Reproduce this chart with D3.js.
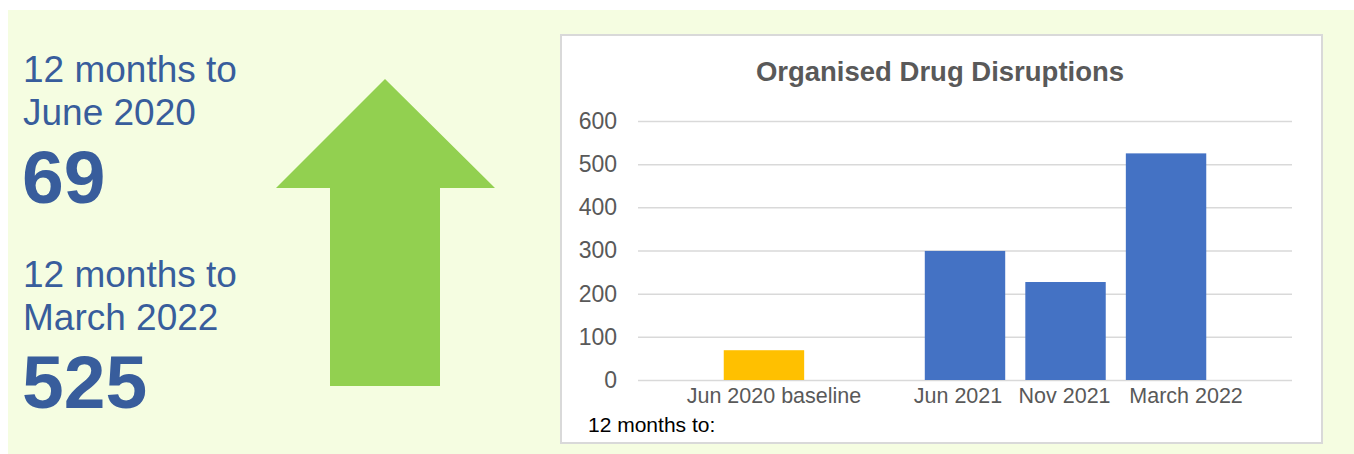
<!DOCTYPE html>
<html>
<head>
<meta charset="utf-8">
<script src="https://cdn.jsdelivr.net/npm/d3@7"></script>
<style>
  body { margin: 0; background: #ffffff; }
  svg text { font-family: "Liberation Sans", Arial, sans-serif; }
</style>
</head>
<body>
<svg id="chart"></svg>
<script>
// chart data
const categories = ["Jun 2020 baseline", "", "Jun 2021", "Nov 2021", "March 2022"];
const disruptions = [69, null, 299, 227, 525];
const barColors = ["#ffc000", null, "#4472c4", "#4472c4", "#4472c4"];
const yTicks = [0, 100, 200, 300, 400, 500, 600];

// side panel figures
const periodLabels = [["12 months to", "June 2020"], ["12 months to", "March 2022"]];
const periodTotals = ["69", "525"];

// x label nudges (the original labels are spread a little off-centre)
const labelNudge = { "Jun 2020 baseline": 10, "Jun 2021": -7, "Nov 2021": -1, "March 2022": 20 };

const W = 1354, H = 454;
const svg = d3.select("#chart").attr("width", W).attr("height", H);

// panel background
svg.append("rect")
  .attr("x", 8).attr("y", 10)
  .attr("width", 1346).attr("height", 444)
  .attr("fill", "#f5fde1");

// left hand text
const blueText = "#385d9c";
const blockTops = [82, 287];
periodLabels.forEach((lines, i) => {
  const y0 = blockTops[i];
  lines.forEach((t, j) => {
    svg.append("text")
      .attr("x", 23).attr("y", y0 + j * 42.5)
      .attr("font-size", 37)
      .attr("fill", blueText)
      .text(t);
  });
  svg.append("text")
    .attr("x", 22).attr("y", y0 + 121)
    .attr("font-size", 75)
    .attr("font-weight", "bold")
    .attr("fill", blueText)
    .text(periodTotals[i]);
});

// big arrow
svg.append("path")
  .attr("d", "M385,79 L495,188 L440,188 L440,386 L330,386 L330,188 L276,188 Z")
  .attr("fill", "#92d050");

// chart box
svg.append("rect")
  .attr("x", 561).attr("y", 35)
  .attr("width", 761).attr("height", 408)
  .attr("fill", "#ffffff")
  .attr("stroke", "#d9d9d9")
  .attr("stroke-width", 2);

svg.append("text")
  .attr("x", 940).attr("y", 81)
  .attr("text-anchor", "middle")
  .attr("font-size", 27.5)
  .attr("font-weight", "bold")
  .attr("fill", "#595959")
  .text("Organised Drug Disruptions");

const x = d3.scaleBand()
  .domain(categories)
  .range([638, 1292])
  .paddingInner(0.2)
  .paddingOuter(0.853);

const y = d3.scaleLinear().domain([0, 600]).range([380, 121]);

// gridlines + y labels
const yAxis = svg.append("g")
  .attr("transform", "translate(638,0)")
  .call(d3.axisLeft(y).tickValues(yTicks).tickSize(-654).tickPadding(21));
yAxis.select(".domain").remove();
yAxis.selectAll(".tick line")
  .attr("stroke", "#d9d9d9")
  .attr("stroke-width", 1.5);
yAxis.selectAll(".tick text")
  .attr("font-size", 23)
  .attr("fill", "#595959")
  .attr("font-family", "Liberation Sans, Arial, sans-serif");

// bars
svg.append("g")
  .selectAll("rect")
  .data(categories.map((c, i) => ({ c, v: disruptions[i], col: barColors[i] })).filter(d => d.v != null))
  .enter()
  .append("rect")
  .attr("x", d => x(d.c))
  .attr("y", d => y(d.v))
  .attr("width", x.bandwidth())
  .attr("height", d => y(0) - y(d.v))
  .attr("fill", d => d.col);

// x labels
const xAxis = svg.append("g")
  .attr("transform", "translate(0,380)")
  .call(d3.axisBottom(x).tickSize(0).tickPadding(8));
xAxis.select(".domain").remove();
xAxis.selectAll(".tick text")
  .attr("font-size", 21.5)
  .attr("fill", "#595959")
  .attr("font-family", "Liberation Sans, Arial, sans-serif")
  .attr("dx", d => labelNudge[d] || 0);

svg.append("text")
  .attr("x", 588).attr("y", 432)
  .attr("font-size", 21)
  .attr("fill", "#000000")
  .text("12 months to:");
</script>
</body>
</html>
